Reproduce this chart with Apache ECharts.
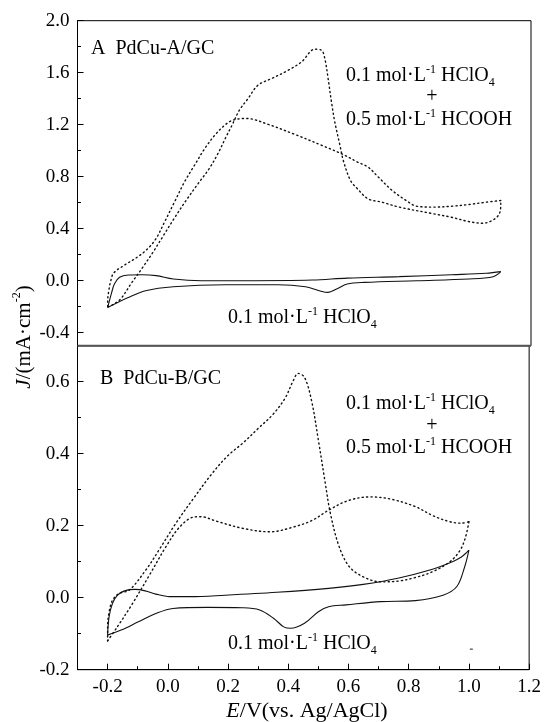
<!DOCTYPE html>
<html>
<head>
<meta charset="utf-8">
<script src="https://cdn.jsdelivr.net/npm/echarts@6/dist/echarts.min.js"></script>
<style>
html,body{margin:0;padding:0;background:#fff;}
#chart{width:544px;height:722px;}
</style>
</head>
<body>
<div id="chart"></div>
<script>
// ---------- DATA ----------
// Panel A (PdCu-A/GC): 0.1 M HClO4 + 0.5 M HCOOH (dotted)
const aAcidFwd = [[-0.2,-0.2],[-0.18,-0.18],[-0.156,-0.137],[-0.122,-0.02],[-0.085,0.1],[-0.05,0.22],[-0.015,0.35],[0.02,0.48],[0.06,0.62],[0.1,0.75],[0.135,0.86],[0.165,0.98],[0.19,1.1],[0.212,1.2],[0.235,1.31],[0.264,1.401],[0.297,1.504],[0.342,1.555],[0.397,1.619],[0.441,1.683],[0.485,1.781],[0.507,1.773],[0.518,1.709],[0.529,1.555],[0.54,1.376],[0.551,1.222],[0.568,1.042],[0.579,0.926],[0.603,0.771],[0.626,0.707],[0.661,0.63],[0.707,0.604],[0.764,0.566],[0.879,0.514],[0.937,0.488],[0.994,0.455],[1.04,0.442],[1.075,0.468],[1.095,0.514],[1.1,0.59],[1.1,0.617]];
const aAcidRev = [[1.1,0.617],[1.052,0.604],[0.994,0.586],[0.937,0.573],[0.879,0.566],[0.822,0.573],[0.787,0.617],[0.741,0.694],[0.695,0.797],[0.661,0.874],[0.626,0.913],[0.579,0.97],[0.507,1.042],[0.419,1.125],[0.331,1.202],[0.259,1.248],[0.214,1.235],[0.187,1.196],[0.154,1.119],[0.121,1.017],[0.087,0.888],[0.054,0.76],[0.021,0.606],[-0.012,0.452],[-0.04,0.325],[-0.067,0.248],[-0.101,0.183],[-0.145,0.119],[-0.18,0.06],[-0.19,0.0],[-0.196,-0.07],[-0.2,-0.15],[-0.2,-0.2]];
// Panel A: 0.1 M HClO4 (solid)
const aBlankUp = [[-0.2,-0.206],[-0.188,-0.1],[-0.178,-0.026],[-0.161,0.026],[-0.132,0.044],[-0.086,0.046],[-0.04,0.039],[0.017,0.013],[0.109,0.0],[0.247,0.0],[0.477,0.005],[0.592,0.02],[0.764,0.031],[0.937,0.046],[1.052,0.057],[1.1,0.07]];
const aBlankDown = [[1.1,0.07],[1.075,0.031],[0.994,0.013],[0.822,0.0],[0.649,-0.013],[0.592,-0.026],[0.557,-0.064],[0.529,-0.09],[0.5,-0.077],[0.454,-0.046],[0.362,-0.031],[0.19,-0.031],[0.017,-0.046],[-0.075,-0.077],[-0.132,-0.129],[-0.2,-0.206]];
// Panel B (PdCu-B/GC): 0.1 M HClO4 + 0.5 M HCOOH (dotted)
const bAcidFwd = [[-0.2,-0.12],[-0.167,-0.08],[-0.12,-0.02],[-0.063,0.06],[-0.006,0.142],[0.04,0.197],[0.086,0.224],[0.11,0.225],[0.16,0.213],[0.247,0.193],[0.339,0.183],[0.42,0.197],[0.48,0.215],[0.534,0.243],[0.6,0.27],[0.672,0.28],[0.74,0.274],[0.822,0.253],[0.88,0.228],[0.937,0.211],[0.975,0.207],[1.0,0.211]];
const bAcidRev = [[1.0,0.211],[0.989,0.169],[0.971,0.132],[0.937,0.1],[0.879,0.072],[0.822,0.056],[0.764,0.046],[0.707,0.044],[0.649,0.058],[0.603,0.086],[0.569,0.142],[0.54,0.234],[0.523,0.318],[0.5,0.438],[0.477,0.549],[0.454,0.612],[0.433,0.623],[0.415,0.6],[0.39,0.555],[0.35,0.51],[0.3,0.47],[0.25,0.43],[0.2,0.395],[0.148,0.346],[0.082,0.272],[0.027,0.207],[-0.029,0.133],[-0.073,0.077],[-0.128,0.021],[-0.161,0.012],[-0.183,-0.006],[-0.194,-0.035],[-0.2,-0.08],[-0.2,-0.12]];
// Panel B: 0.1 M HClO4 (solid)
const bBlankUp = [[-0.2,-0.104],[-0.195,-0.053],[-0.184,-0.016],[-0.167,0.007],[-0.144,0.019],[-0.109,0.023],[-0.075,0.019],[-0.04,0.01],[0.006,0.003],[0.075,0.003],[0.19,0.007],[0.362,0.015],[0.534,0.026],[0.649,0.037],[0.764,0.054],[0.879,0.079],[0.937,0.097],[0.975,0.113],[1.0,0.132]];
const bBlankDown = [[1.0,0.132],[0.986,0.086],[0.96,0.031],[0.914,0.007],[0.822,-0.008],[0.707,-0.011],[0.592,-0.02],[0.534,-0.025],[0.5,-0.039],[0.454,-0.071],[0.408,-0.085],[0.385,-0.081],[0.351,-0.057],[0.305,-0.034],[0.247,-0.028],[0.132,-0.027],[0.017,-0.03],[-0.04,-0.044],[-0.098,-0.067],[-0.155,-0.09],[-0.2,-0.104]];
// Small stray mark visible in panel B
const bStray = [[1.008,-0.143]];

// Ticks
const xMajor = [-0.2,0,0.2,0.4,0.6,0.8,1.0,1.2];
const xMinor = [-0.1,0.1,0.3,0.5,0.7,0.9,1.1];
const yAMajor = [-0.4,0,0.4,0.8,1.2,1.6,2.0];
const yAMinor = [-0.2,0.2,0.6,1.0,1.4,1.8];
const yBMajor = [-0.2,0,0.2,0.4,0.6];
const yBMinor = [-0.1,0.1,0.3,0.5];

// Texts
const panelATitle = 'A  PdCu-A/GC';
const panelBTitle = 'B  PdCu-B/GC';
const acidLine1 = '0.1 mol·L{sup|-1} HClO{sub|4}';
const acidPlus = '+';
const acidLine2 = '0.5 mol·L{sup|-1} HCOOH';
const blankLabel = '0.1 mol·L{sup|-1} HClO{sub|4}';
const yTitle = '{i|J}/(mA·cm{sup|-2})';
const xTitle = '{i|E}/V(vs. Ag/AgCl)';

// ---------- LAYOUT ----------
const FONT = '"Liberation Serif", "Times New Roman", serif';
const FS = 19;
const L = 77.5, W = 453.5;
const TOP_A = 20.7, H_A = 325, TOP_B = 345.7, H_B = 324;

function makeRich(fs) {
  const lh = Math.round(fs * 1.25);
  const ss = Math.round(fs * 0.58);
  return {
    sup: {fontSize: ss, fontFamily: FONT, fill: '#000', color: '#000', verticalAlign: 'top', lineHeight: lh},
    sub: {fontSize: ss, fontFamily: FONT, fill: '#000', color: '#000', verticalAlign: 'bottom', lineHeight: lh},
    i: {fontSize: fs, fontFamily: FONT, fontStyle: 'italic', fill: '#000', color: '#000', lineHeight: lh}
  };
}

function txt(x, y, text, fs, align, rot) {
  return {
    type: 'text', x: x, y: y, rotation: rot || 0, silent: true, z: 100,
    style: {
      text: text, fontSize: fs, fontFamily: FONT, fill: '#000',
      align: align || 'left', verticalAlign: 'middle', lineHeight: Math.round(fs * 1.25), rich: makeRich(fs)
    }
  };
}

function yAxisCfg(grid, min, max, vals, major) {
  return {
    type: 'value', gridIndex: grid, min: min, max: max, position: 'left', offset: 0,
    axisLine: {show: major, onZero: false, lineStyle: {color: '#000', width: 1}},
    axisTick: {show: true, inside: true, length: major ? 6 : 3.5, customValues: vals, lineStyle: {color: '#000', width: 1}},
    axisLabel: major ? {show: true, customValues: vals, margin: 8, fontSize: FS, fontFamily: FONT, color: '#000',
      formatter: v => (Math.abs(v) < 1e-9 ? 0 : v).toFixed(1)} : {show: false},
    splitLine: {show: false}
  };
}

function xAxisCfg(grid, vals, major, show) {
  return {
    type: 'value', gridIndex: grid, min: -0.3, max: 1.2, position: 'bottom', offset: 0, show: show,
    axisLine: {show: major, onZero: false, lineStyle: {color: '#000', width: 1}},
    axisTick: {show: true, inside: true, length: major ? 6 : 3.5, customValues: vals, lineStyle: {color: '#000', width: 1}},
    axisLabel: major ? {show: true, customValues: vals, margin: 8, fontSize: FS, fontFamily: FONT, color: '#000',
      formatter: v => (Math.abs(v) < 1e-9 ? 0 : v).toFixed(1)} : {show: false},
    splitLine: {show: false}
  };
}

const dotted = {color: '#111', width: 1.4, type: [1.2, 3.2], cap: 'round'};
const solid = {color: '#111', width: 1.1};

function ser(data, xi, yi, style) {
  return {type: 'line', xAxisIndex: xi, yAxisIndex: yi, data: data, showSymbol: false, symbol: 'none',
    smooth: 0.35, lineStyle: style, silent: true, animation: false};
}

const chart = echarts.init(document.getElementById('chart'), null, {renderer: 'canvas'});
chart.setOption({
  backgroundColor: '#fff',
  animation: false,
  grid: [
    {left: L, top: TOP_A, width: W, height: H_A, show: true, borderColor: '#000', borderWidth: 1, containLabel: false},
    {left: L, top: TOP_B, width: W, height: H_B, show: true, borderColor: '#000', borderWidth: 1, containLabel: false}
  ],
  xAxis: [
    xAxisCfg(0, xMajor, false, false),
    xAxisCfg(1, xMajor, true, true),
    xAxisCfg(1, xMinor, false, true)
  ],
  yAxis: [
    yAxisCfg(0, -0.5, 2.0, yAMajor, true),
    yAxisCfg(0, -0.5, 2.0, yAMinor, false),
    yAxisCfg(1, -0.2, 0.7, yBMajor, true),
    yAxisCfg(1, -0.2, 0.7, yBMinor, false)
  ],
  series: [
    ser(aAcidFwd, 0, 0, dotted),
    ser(aAcidRev, 0, 0, dotted),
    ser(aBlankUp, 0, 0, solid),
    ser(aBlankDown, 0, 0, solid),
    ser(bAcidFwd, 1, 2, dotted),
    ser(bAcidRev, 1, 2, dotted),
    ser(bBlankUp, 1, 2, solid),
    ser(bBlankDown, 1, 2, solid),
    {type: 'scatter', xAxisIndex: 1, yAxisIndex: 2, data: bStray, symbol: 'rect', symbolSize: [3, 1.5],
      itemStyle: {color: '#444'}, silent: true, animation: false}
  ],
  graphic: [
    {type: 'line', silent: true, z: 90, shape: {x1: L, y1: TOP_B, x2: L + W, y2: TOP_B}, style: {stroke: '#555', lineWidth: 2}},
    txt(91, 49, panelATitle, 20),
    txt(346, 76, acidLine1, 20),
    txt(432, 97, acidPlus, 20, 'center'),
    txt(346, 120, acidLine2, 20),
    txt(228, 318, blankLabel, 20),
    txt(100, 379, panelBTitle, 20),
    txt(346, 404, acidLine1, 20),
    txt(432, 426, acidPlus, 20, 'center'),
    txt(346, 448, acidLine2, 20),
    txt(228, 644, blankLabel, 20),
    txt(24, 337, yTitle, 21, 'center', Math.PI / 2),
    txt(307, 711, xTitle, 22, 'center')
  ]
});
</script>
</body>
</html>
